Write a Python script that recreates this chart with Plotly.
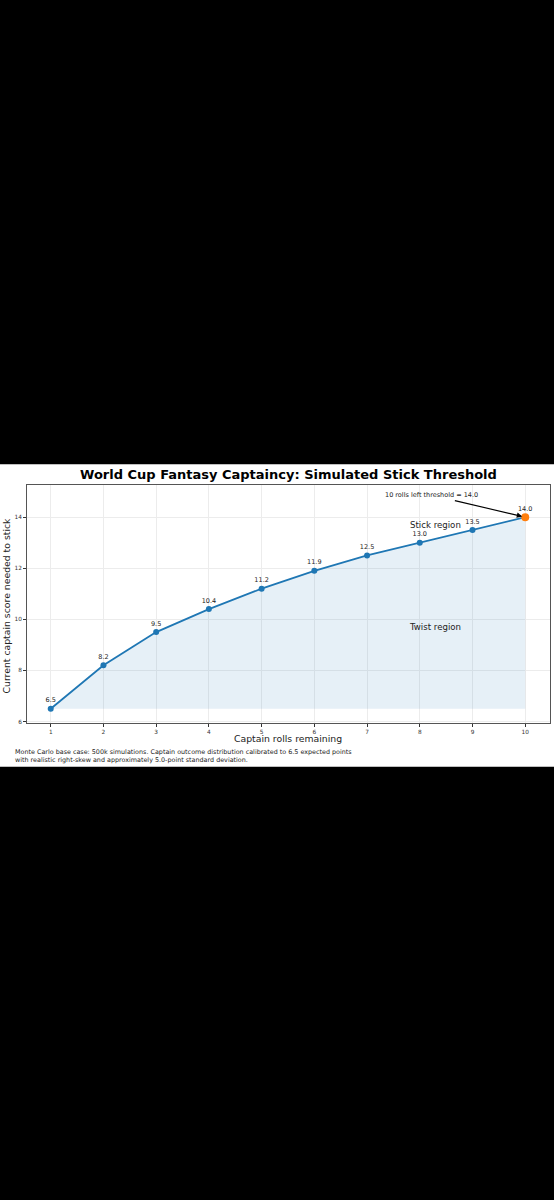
import plotly.graph_objects as go

# Captain rolls remaining vs. score needed to stick
rolls = [1, 2, 3, 4, 5, 6, 7, 8, 9, 10]
threshold = [6.5, 8.2, 9.5, 10.4, 11.2, 11.9, 12.5, 13.0, 13.5, 14.0]
labels = [f"{v:.1f}" for v in threshold]

x_ticks = [1, 2, 3, 4, 5, 6, 7, 8, 9, 10]
y_ticks = [6, 8, 10, 12, 14]

title = "<b>World Cup Fantasy Captaincy: Simulated Stick Threshold</b>"
x_title = "Captain rolls remaining"
y_title = "Current captain score needed to stick"
note = ("Monte Carlo base case: 500k simulations. Captain outcome distribution calibrated to 6.5 expected points<br>"
        "with realistic right-skew and approximately 5.0-point standard deviation.")

W, H = 554, 1200
FONT = "DejaVu Sans"
BLUE = "#1f77b4"
ORANGE = "#ff7f0e"

def px_x(p):
    return p / W

def px_y(p):
    return 1 - p / H

floor = min(threshold)

fig = go.Figure()

# baseline for the shaded area
fig.add_trace(go.Scatter(
    x=rolls, y=[floor] * len(rolls), mode="lines",
    line=dict(width=0, color="rgba(0,0,0,0)"), hoverinfo="skip", showlegend=False
))
fig.add_trace(go.Scatter(
    x=rolls, y=threshold, mode="lines", fill="tonexty",
    fillcolor="rgba(31,119,180,0.11)", line=dict(width=0),
    hoverinfo="skip", showlegend=False
))

# main line with labels
fig.add_trace(go.Scatter(
    x=rolls, y=threshold, mode="lines+markers+text",
    line=dict(color=BLUE, width=1.8),
    marker=dict(color=BLUE, size=6),
    text=labels, textposition="top center",
    textfont=dict(family=FONT, size=6.5, color="#222"),
    showlegend=False
))

# highlighted last point
fig.add_trace(go.Scatter(
    x=rolls[-1:], y=threshold[-1:], mode="markers",
    marker=dict(color=ORANGE, size=8), showlegend=False
))

fig.update_xaxes(
    domain=[px_x(27), px_x(550)], range=[0.55, 10.47],
    tickvals=x_ticks, ticks="outside", ticklen=3, tickcolor="#333",
    tickfont=dict(family=FONT, size=5.8, color="#333"),
    showline=True, linecolor="#555", linewidth=1, mirror=True,
    showgrid=True, gridcolor="#ececec", gridwidth=1, zeroline=False
)
fig.update_yaxes(
    domain=[px_y(724), px_y(486)], range=[5.95, 15.25],
    tickvals=y_ticks, ticks="outside", ticklen=3, tickcolor="#333",
    tickfont=dict(family=FONT, size=5.8, color="#333"),
    showline=True, linecolor="#555", linewidth=1, mirror=True,
    showgrid=True, gridcolor="#ececec", gridwidth=1, zeroline=False
)

annotations = [
    dict(text=title, x=px_x(288), y=px_y(475), xref="paper", yref="paper",
         showarrow=False, font=dict(family=FONT, size=13, color="black")),
    dict(text=x_title, x=px_x(288), y=px_y(740), xref="paper", yref="paper",
         showarrow=False, font=dict(family=FONT, size=9.3, color="#222")),
    dict(text=y_title, x=px_x(14), y=px_y(607), xref="paper", yref="paper",
         xanchor="right", textangle=-90, showarrow=False,
         font=dict(family=FONT, size=9.3, color="#222")),
    dict(text=note, x=px_x(13), y=px_y(747), xref="paper", yref="paper",
         xanchor="left", yanchor="top", align="left", showarrow=False,
         font=dict(family=FONT, size=6.4, color="#222")),
    dict(text="Stick region", x=8.29, y=13.68, xref="x", yref="y",
         showarrow=False, font=dict(family=FONT, size=8.6, color="#222")),
    dict(text="Twist region", x=8.29, y=9.69, xref="x", yref="y",
         showarrow=False, font=dict(family=FONT, size=8.6, color="#222")),
    dict(text=f"{rolls[-1]} rolls left threshold = {threshold[-1]:.1f}",
         x=rolls[-1], y=threshold[-1], xref="x", yref="y",
         ax=8.22, ay=14.86, axref="x", ayref="y",
         showarrow=True, arrowhead=2, arrowsize=1, arrowwidth=1.1,
         arrowcolor="black", standoff=3,
         font=dict(family=FONT, size=6.5, color="#222")),
]

fig.update_layout(
    width=W, height=H,
    margin=dict(l=0, r=0, t=0, b=0),
    paper_bgcolor="black", plot_bgcolor="white",
    annotations=annotations,
    shapes=[dict(type="rect", xref="paper", yref="paper",
                 x0=0, x1=1, y0=px_y(768), y1=px_y(465),
                 fillcolor="white", line=dict(width=0), layer="below")],
    showlegend=False
)

# drop the page margin so the 554x1200 figure fills the window exactly
fig.write_html(
    "out.html",
    config={"displayModeBar": False},
    post_script="document.body.style.margin='0';document.body.style.background='black';"
                "document.documentElement.style.overflow='hidden';"
)
